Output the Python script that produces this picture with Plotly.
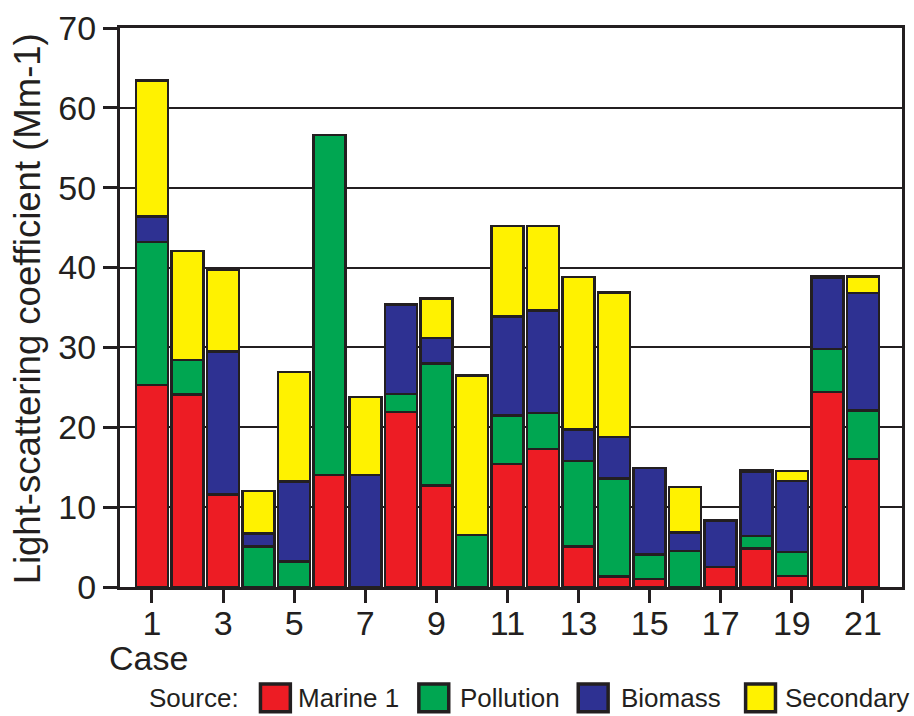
import plotly.graph_objects as go

# Light-scattering contributions per case (Mm-1), stacked bottom to top
cases = list(range(1, 22))
marine = [25.3, 24.1, 11.6, 0, 0, 14.0, 0, 21.9, 12.7, 0, 15.4, 17.3, 5.1, 1.3, 1.0, 0, 2.5, 4.8, 1.4, 24.4, 16.0]
pollution = [17.9, 4.3, 0, 5.1, 3.2, 42.6, 0, 2.3, 15.3, 6.5, 6.1, 4.5, 10.7, 12.3, 3.1, 4.5, 0, 1.6, 3.0, 5.4, 6.1]
biomass = [3.2, 0, 17.9, 1.6, 10.0, 0, 14.0, 11.2, 3.2, 0, 12.4, 12.8, 3.9, 5.2, 10.8, 2.3, 5.8, 8.0, 8.9, 8.9, 14.7]
secondary = [17.0, 13.7, 10.2, 5.3, 13.7, 0, 9.8, 0, 4.9, 20.0, 11.3, 10.6, 19.1, 18.1, 0, 5.7, 0, 0.2, 1.2, 0.2, 2.1]

series = [
    ("Marine 1", marine, "#ED1C24"),
    ("Pollution", pollution, "#00A651"),
    ("Biomass", biomass, "#2E3192"),
    ("Secondary", secondary, "#FFF200"),
]

INK = "#231f20"
FONT = "Liberation Sans, Arial, sans-serif"

fig = go.Figure()
for name, vals, col in series:
    fig.add_trace(go.Bar(
        x=cases,
        y=[v if v > 0 else None for v in vals],
        name=name,
        marker=dict(color=col, line=dict(color=INK, width=2.5)),
        showlegend=False,
    ))

# plot area in pixels
L, R, T, B = 120, 905, 22, 587
W, H = 914, 716


def px(x):
    return (x - L) / (R - L)


def py(y):
    return (B - y) / (B - T)


fig.update_layout(
    width=W, height=H,
    margin=dict(l=L, r=W - R, t=T, b=H - B),
    barmode="stack",
    bargap=0.1,
    plot_bgcolor="white",
    paper_bgcolor="white",
    font=dict(family=FONT, color=INK),
    xaxis=dict(
        range=[0.1, 22.1],
        tickvals=list(range(1, 22, 2)),
        ticks="outside", ticklen=13, tickwidth=3, tickcolor=INK,
        ticklabelstandoff=-9,
        showline=True, linewidth=3, linecolor=INK, mirror=True,
        showgrid=False, zeroline=False,
        tickfont=dict(size=34, family=FONT, color=INK),
    ),
    yaxis=dict(
        range=[0, 70], dtick=10,
        ticks="outside", ticklen=14, tickwidth=3, tickcolor=INK,
        showline=True, linewidth=3, linecolor=INK, mirror=True,
        showgrid=True, gridcolor=INK, gridwidth=2,
        zeroline=False,
        tickfont=dict(size=34, family=FONT, color=INK),
    ),
)

annotations = [
    dict(text="Light-scattering coefficient (Mm-1)", textangle=-90,
         x=px(28), y=py(306), xref="paper", yref="paper",
         xanchor="center", yanchor="middle", showarrow=False,
         font=dict(size=36.5, family=FONT, color=INK)),
    dict(text="Case", x=px(107), y=py(659), xref="paper", yref="paper",
         xanchor="left", yanchor="middle", showarrow=False,
         font=dict(size=34, family=FONT, color=INK)),
    dict(text="Source:", x=px(241), y=py(699), xref="paper", yref="paper",
         xanchor="right", yanchor="middle", showarrow=False,
         font=dict(size=26, family=FONT, color=INK)),
]

# legend swatches and labels
legend_pos = [(261, 297), (420, 459), (580, 621), (748, 786)]
shapes = []
for (name, _, col), (sx, tx) in zip(series, legend_pos):
    shapes.append(dict(type="rect", xref="paper", yref="paper",
                       x0=px(sx), x1=px(sx + 30), y0=py(713), y1=py(685),
                       fillcolor=col, line=dict(color=INK, width=3.5)))
    annotations.append(dict(text=name, x=px(tx), y=py(699), xref="paper", yref="paper",
                            xanchor="left", yanchor="middle", showarrow=False,
                            font=dict(size=26, family=FONT, color=INK)))

fig.update_layout(annotations=annotations, shapes=shapes)

fig.write_html("out.html")
